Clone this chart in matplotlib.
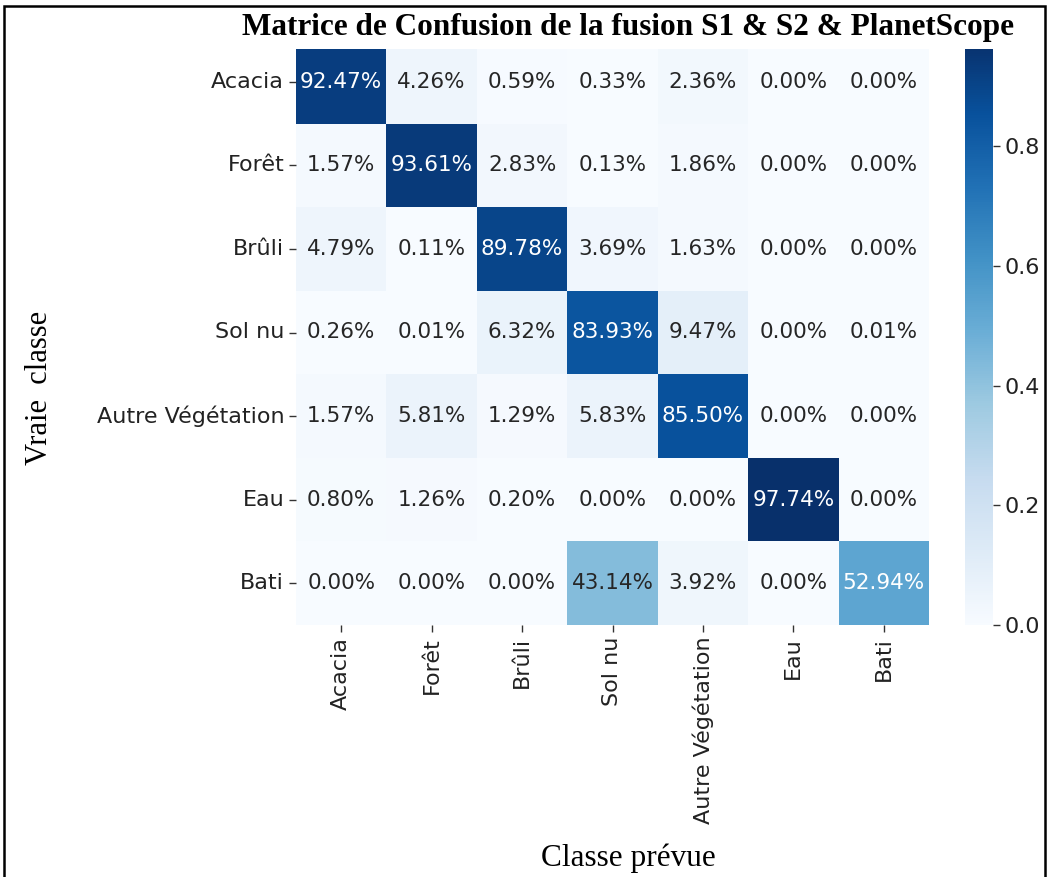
import matplotlib
matplotlib.use("Agg")
import matplotlib.pyplot as plt
import matplotlib.patches as mpatches
import numpy as np
import seaborn as sns

classes = ["Acacia", "Forêt", "Brûli", "Sol nu", "Autre Végétation", "Eau", "Bati"]
row_acacia = [0.9247, 0.0426, 0.0059, 0.0033, 0.0236, 0.0000, 0.0000]
row_foret = [0.0157, 0.9361, 0.0283, 0.0013, 0.0186, 0.0000, 0.0000]
row_bruli = [0.0479, 0.0011, 0.8978, 0.0369, 0.0163, 0.0000, 0.0000]
row_solnu = [0.0026, 0.0001, 0.0632, 0.8393, 0.0947, 0.0000, 0.0001]
row_autre = [0.0157, 0.0581, 0.0129, 0.0583, 0.8550, 0.0000, 0.0000]
row_eau = [0.0080, 0.0126, 0.0020, 0.0000, 0.0000, 0.9774, 0.0000]
row_bati = [0.0000, 0.0000, 0.0000, 0.4314, 0.0392, 0.0000, 0.5294]

cm = np.array([row_acacia, row_foret, row_bruli, row_solnu, row_autre, row_eau, row_bati])

W, H = 1048, 877
fig = plt.figure(figsize=(W / 100, H / 100), dpi=100)

def fx(px):
    return px / W

def fy(py):
    return 1 - py / H

top, bottom = 40, 625
ax = fig.add_axes([fx(296), fy(bottom), fx(929) - fx(296), fy(top) - fy(bottom)])
cax = fig.add_axes([fx(965), fy(bottom), fx(993) - fx(965), fy(top) - fy(bottom)])

sns.heatmap(cm, annot=True, fmt=".2%", cmap="Blues", vmin=0, ax=ax, cbar_ax=cax,
            xticklabels=classes, yticklabels=classes,
            annot_kws={"fontsize": 15.5})

ax.tick_params(axis="both", labelsize=16, length=5, width=1, colors="#333333", labelcolor="#222222")
ax.set_xticklabels(classes, rotation=90)
ax.set_yticklabels(classes, rotation=0)
cax.tick_params(labelsize=16, length=5, width=1, colors="#333333", labelcolor="#222222")
cax.set_yticks([0.0, 0.2, 0.4, 0.6, 0.8])

# white band under the title (covers top of heatmap as in the reference)
fig.patches.append(mpatches.Rectangle((fx(230), fy(49)), fx(1040) - fx(230), fy(8) - fy(49),
                                      transform=fig.transFigure, facecolor="white",
                                      edgecolor="none", zorder=5))

fig.text(fx(628), fy(28), "Matrice de Confusion de la fusion S1 & S2 & PlanetScope",
         ha="center", va="center", fontsize=22.5, fontweight="bold",
         family="Liberation Serif", zorder=6)
fig.text(fx(40), fy(388), "Vraie  classe", rotation=90, ha="center", va="center",
         fontsize=22, family="Liberation Serif")
fig.text(fx(628), fy(858), "Classe prévue", ha="center", va="center",
         fontsize=22.5, family="Liberation Serif")

# figure frame
fig.patches.append(mpatches.Rectangle((fx(4), -0.05), fx(1045) - fx(4), fy(6) + 0.05,
                                      transform=fig.transFigure, facecolor="none",
                                      edgecolor="black", linewidth=1.8, zorder=7))

fig.savefig("out.png", dpi=100)
